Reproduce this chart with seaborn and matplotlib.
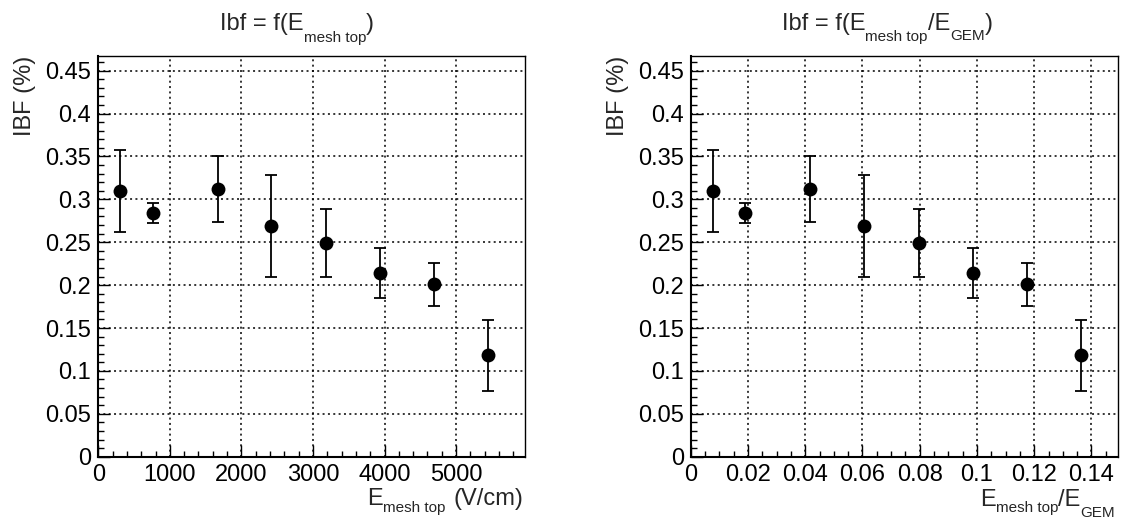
# -*- coding: utf-8 -*-
"""
IBF vs E_mesh top  /  IBF vs E_mesh top / E_GEM
"""

import numpy as np
import pandas as pd
import seaborn as sns
import matplotlib.pyplot as plt
from matplotlib.ticker import MultipleLocator, FuncFormatter
from matplotlib.transforms import IdentityTransform

# ===== data =====
e_mesh = [300, 760, 1670, 2420, 3180, 3940, 4690, 5450]              # V/cm
e_ratio = [0.0079, 0.0191, 0.0418, 0.0605, 0.0796, 0.0986, 0.1173, 0.1362]
ibf = [0.310, 0.284, 0.312, 0.269, 0.249, 0.214, 0.201, 0.118]         # %
ibf_err = [0.048, 0.012, 0.038, 0.059, 0.040, 0.029, 0.025, 0.041]

# texts: (piece, is_subscript)
title_left = [("Ibf = f(E", False), ("mesh top", True), (")", False)]
title_right = [("Ibf = f(E", False), ("mesh top", True), ("/E", False), ("GEM", True), (")", False)]
xlabel_left = [("E", False), ("mesh top", True), ("(V/cm)", False)]
xlabel_right = [("E", False), ("mesh top", True), ("/E", False), ("GEM", True)]
ylabel = "IBF (%)"

df = pd.DataFrame({"e_mesh": e_mesh, "e_ratio": e_ratio, "ibf": ibf, "err": ibf_err})

# ===== style =====
sns.set_style("white")
plt.rcParams['font.family'] = ['Liberation Sans', 'DejaVu Sans']

W, H = 1121, 521
fig = plt.figure(figsize=(W / 100, H / 100), dpi=100)
ax1 = fig.add_axes([0.0877, 0.1234, 0.3806, 0.7690])
ax2 = fig.add_axes([0.6162, 0.1234, 0.3807, 0.7690])

panels = [
    (ax1, "e_mesh", 5962, 1000, 200),
    (ax2, "e_ratio", 0.1491, 0.02, 0.005),
]

for ax, xcol, xmax, major, minor in panels:
    ax.errorbar(df[xcol], df["ibf"], yerr=df["err"], fmt="none", ecolor="black",
                elinewidth=1.3, capsize=4.5, capthick=1.3, zorder=2)
    sns.scatterplot(data=df, x=xcol, y="ibf", ax=ax, color="black", s=100,
                    edgecolor="black", linewidth=0, zorder=3, legend=False)

    ax.set_xlim(0, xmax)
    ax.set_ylim(0, 0.467)
    ax.xaxis.set_major_locator(MultipleLocator(major))
    ax.xaxis.set_minor_locator(MultipleLocator(minor))
    ax.yaxis.set_major_locator(MultipleLocator(0.05))
    ax.yaxis.set_minor_locator(MultipleLocator(0.01))
    fmt = FuncFormatter(lambda v, p: "%g" % round(v, 6))
    ax.xaxis.set_major_formatter(fmt)
    ax.yaxis.set_major_formatter(fmt)

    ax.grid(True, which="major", color="black", linestyle=(0, (1.3, 2.2)), linewidth=1.1)
    ax.set_axisbelow(True)

    # ROOT style: inward ticks on left and bottom only
    ax.tick_params(which="both", direction="in", bottom=True, left=True,
                   top=False, right=False, labelsize=17, colors="black",
                   width=1.0, pad=5)
    ax.tick_params(which="major", length=8.6)
    ax.tick_params(which="minor", length=4.3)

    for side in ["left", "bottom"]:
        ax.spines[side].set_linewidth(1.5)
    for side in ["top", "right"]:
        ax.spines[side].set_linewidth(1.0)
    for s in ax.spines.values():
        s.set_color("black")

    ax.set_ylabel(ylabel, fontsize=17, loc="top")
    ax.yaxis.set_label_coords(-0.145, 1.0)
    ax.set_xlabel("")


# ===== ROOT-like text with lowered subscripts (pixel coordinates, y from top) =====
def root_text(pieces, x, y, drops, ha="center", size=17, subsize=11, gap=0):
    renderer = fig.canvas.get_renderer()
    items = []
    for (s, sub), d in zip(pieces, drops):
        t = fig.text(0, 0, s, fontsize=subsize if sub else size, ha="left",
                     va="baseline", transform=IdentityTransform())
        items.append((t, d))
    widths = [t.get_window_extent(renderer).width for t, _ in items]
    total = sum(widths) + gap
    x0 = x - total / 2 if ha == "center" else x - total
    for k, ((t, d), w) in enumerate(zip(items, widths)):
        if gap and k == len(items) - 1:
            x0 += gap
        t.set_position((x0, H - (y + d)))
        x0 += w


root_text(title_left, 297, 30, [0, 12, 0])
root_text(title_right, 887, 30, [0, 11, 0, 10, 0])
root_text(xlabel_left, 523, 505, [0, 7, 0], ha="right", gap=8)
root_text(xlabel_right, 1115, 506, [0, 6, 0, 11], ha="right")

fig.savefig("out.png", dpi=100)
